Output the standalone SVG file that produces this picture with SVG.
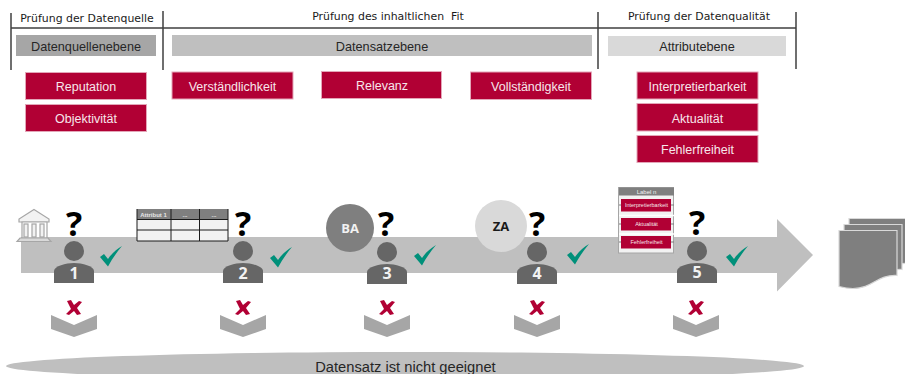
<svg xmlns="http://www.w3.org/2000/svg" xmlns:xlink="http://www.w3.org/1999/xlink" width="905" height="374" viewBox="0 0 905 374">
<style>
.hd{font:10.900px "DejaVu Sans",sans-serif;fill:#1a1a1a;text-anchor:middle;white-space:pre}
.lv{font:12.700px "Liberation Sans",Arial,sans-serif;fill:#262626;text-anchor:middle}
.rb{fill:#b10034;stroke:#e3a6b8;stroke-width:1}
.rt{font:12.500px "Liberation Sans",Arial,sans-serif;fill:#f7e6eb;text-anchor:middle}
.q{font:700 34px "Open Sans",sans-serif;fill:#000;text-anchor:middle}
.num{font:700 16px "Open Sans",sans-serif;fill:#f2f2f2;text-anchor:middle}
.sm{font:5.500px "Liberation Sans",Arial,sans-serif;fill:#f7e6eb;text-anchor:middle}
.vl{stroke:#404040;stroke-width:1.500;fill:none}
</style>
<defs>
<g id="person"><circle cx="0" cy="-13" r="10" fill="#666"/><path d="M-20 19V7C-20 2-8-1 0-1S20 2 20 7V19Z" fill="#666"/></g>
<path id="check" d="M0 11L4 8 8 13C12 7 17 3 22 0 17 6 12 13 8 20.500Z" fill="#00907a"/>
<path id="cross" d="M-7-7L-3-8 0-3 5-7 8-6 3 0 7 6 3 7 0 3-5 7-8 6-3 1Z" fill="#b10034"/>
<path id="chev" d="M-23-11L0-1 23-11V3L0 11-23 3Z" fill="#a6a6a6"/>
<path id="sheet" d="M0 0H58V45C38 44 34 58 14 58 8 58 4 57 0 56Z" fill="#7f7f7f" stroke="#d9d9d9" stroke-width="1.200"/>
</defs>
<g id="connectors">
<path class="vl" d="M11 13V70M163 11V70M598 12V69M796 12V69M11 28H796"/>
</g>
<g id="head-quelle"><text class="hd" x="87" y="21.500">Prüfung der Datenquelle</text></g>
<g id="head-fit"><text class="hd" x="388" y="20">Prüfung des inhaltlichen  Fit</text></g>
<g id="head-qualitaet"><text class="hd" x="699" y="20">Prüfung der Datenqualität</text></g>
<g id="level-quelle"><rect x="16" y="35" width="140" height="21" fill="#a6a6a6"/><text class="lv" x="86" y="50.500">Datenquellenebene</text></g>
<g id="level-satz"><rect x="172" y="35" width="420" height="21" fill="#bfbfbf"/><text class="lv" x="382" y="50.500">Datensatzebene</text></g>
<g id="level-attr"><rect x="608" y="36" width="178" height="20" fill="#d9d9d9"/><text class="lv" x="697" y="50.500">Attributebene</text></g>
<g id="c-reputation"><rect class="rb" x="25.500" y="72.500" width="121" height="27"/><text class="rt" x="86" y="91">Reputation</text></g>
<g id="c-objektivitaet"><rect class="rb" x="25.500" y="104.500" width="121" height="27"/><text class="rt" x="86" y="122.500">Objektivität</text></g>
<g id="c-verstaendlichkeit"><rect class="rb" x="172" y="72" width="121" height="27"/><text class="rt" x="232.500" y="90.500">Verständlichkeit</text></g>
<g id="c-relevanz"><rect class="rb" x="321.500" y="71.500" width="120" height="27"/><text class="rt" x="382" y="90">Relevanz</text></g>
<g id="c-vollstaendigkeit"><rect class="rb" x="470.500" y="72" width="121" height="27.500"/><text class="rt" x="531" y="90.500">Vollständigkeit</text></g>
<g id="c-interpretierbarkeit"><rect class="rb" x="637" y="72" width="121" height="27"/><text class="rt" x="697.500" y="90.500">Interpretierbarkeit</text></g>
<g id="c-aktualitaet"><rect class="rb" x="637" y="103.500" width="121" height="27.500"/><text class="rt" x="697.500" y="122.500">Aktualität</text></g>
<g id="c-fehlerfreiheit"><rect class="rb" x="637" y="135.500" width="121" height="27"/><text class="rt" x="697.500" y="154">Fehlerfreiheit</text></g>
<g id="process-arrow"><path d="M21 237H777V219L813 255 777 291.500V273H21Z" fill="#bfbfbf"/></g>
<g id="bank" fill="#f2f2f2" stroke="#a6a6a6" stroke-width="1.200">
<path d="M34 209.500L49 219V222H19V219Z"/>
<path d="M22 222H47V238H22Z" fill="#fff"/>
<rect x="24" y="224" width="4" height="13"/><rect x="32" y="224" width="4" height="13"/><rect x="40" y="224" width="4" height="13"/>
<path d="M20 238H48L51 241.500H17Z" fill="#d9d9d9"/>
</g>
<g id="table-icon">
<rect x="137" y="209" width="91" height="32" fill="#f2f2f2"/>
<rect x="137" y="209" width="91" height="10" fill="#7f7f7f"/>
<path d="M137 209V241H228V209M171 209V241M199.500 209V241M137 219.500H228M137 230H228" fill="none" stroke="#1a1a1a" stroke-width="1"/>
<text x="153.500" y="217" font-family="Liberation Sans,Arial,sans-serif" font-size="6" font-weight="bold" fill="#e6e6e6" text-anchor="middle">Attribut 1</text>
<text x="185" y="217" font-family="Liberation Sans,Arial,sans-serif" font-size="6" font-weight="bold" fill="#e6e6e6" text-anchor="middle">...</text>
<text x="214" y="217" font-family="Liberation Sans,Arial,sans-serif" font-size="6" font-weight="bold" fill="#e6e6e6" text-anchor="middle">...</text>
</g>
<g id="ba"><circle cx="350" cy="228" r="24" fill="#7f7f7f"/><text x="350" y="233" font-family="Open Sans,sans-serif" font-weight="700" font-size="13" fill="#f2f2f2" text-anchor="middle">BA</text></g>
<g id="za"><circle cx="501" cy="226" r="26" fill="#d9d9d9"/><text x="501" y="231" font-family="Open Sans,sans-serif" font-weight="700" font-size="13" fill="#1a1a1a" text-anchor="middle">ZA</text></g>
<g id="label-card">
<rect x="618.500" y="187.500" width="55" height="65.500" fill="#f2f2f2" stroke="#a6a6a6"/>
<rect x="619" y="187.500" width="55" height="8" fill="#7f7f7f"/>
<path d="M619 215.500H674M619 234H674" stroke="#fff" stroke-width="1.500"/>
<path d="M619 205H621M671 205H674M619 224H621M671 224H674M619 242H621M671 242H674" stroke="#7f7f7f"/>
<rect x="621" y="199" width="50" height="12.500" fill="#b10034"/>
<rect x="621" y="218" width="50" height="12.500" fill="#b10034"/>
<rect x="621" y="236" width="50" height="12.500" fill="#b10034"/>
<text x="646.500" y="194" font-family="Liberation Sans,Arial,sans-serif" font-size="6" fill="#f2f2f2" text-anchor="middle">Label n</text>
<text class="sm" x="646.500" y="207">Interpretierbarkeit</text>
<text class="sm" x="646.500" y="226">Aktualität</text>
<text class="sm" x="646.500" y="244">Fehlerfreiheit</text>
</g>
<g id="step-1"><text class="q" x="74" y="236">?</text><use xlink:href="#person" x="74" y="264"/><text class="num" x="74" y="278.500">1</text><use xlink:href="#check" x="100" y="246"/><use xlink:href="#cross" x="74" y="308"/><use xlink:href="#chev" x="74" y="326"/></g>
<g id="step-2"><text class="q" x="243" y="236">?</text><use xlink:href="#person" x="243" y="264"/><text class="num" x="243" y="278.500">2</text><use xlink:href="#check" x="270" y="247"/><use xlink:href="#cross" x="243" y="308"/><use xlink:href="#chev" x="243" y="326"/></g>
<g id="step-3"><text class="q" x="386" y="236">?</text><use xlink:href="#person" x="387" y="265"/><text class="num" x="387" y="278.500">3</text><use xlink:href="#check" x="414" y="245"/><use xlink:href="#cross" x="387" y="308"/><use xlink:href="#chev" x="387" y="326"/></g>
<g id="step-4"><text class="q" x="537" y="236">?</text><use xlink:href="#person" x="537" y="265"/><text class="num" x="537" y="279">4</text><use xlink:href="#check" x="567" y="244"/><use xlink:href="#cross" x="537" y="308"/><use xlink:href="#chev" x="537" y="326"/></g>
<g id="step-5"><text class="q" x="697" y="235">?</text><use xlink:href="#person" x="697" y="264"/><text class="num" x="697" y="278">5</text><use xlink:href="#check" x="726" y="246"/><use xlink:href="#cross" x="696" y="308"/><use xlink:href="#chev" x="696" y="326"/></g>
<g id="doc-stack"><use xlink:href="#sheet" x="849" y="218.500"/><use xlink:href="#sheet" x="844" y="224.500"/><use xlink:href="#sheet" x="839" y="230.500"/></g>
<g id="not-suitable"><ellipse cx="405" cy="366" rx="399" ry="14" fill="#bfbfbf"/><text x="405.500" y="371.500" font-family="Liberation Sans,Arial,sans-serif" font-size="14.700" fill="#262626" text-anchor="middle">Datensatz ist nicht geeignet</text></g>
</svg>
